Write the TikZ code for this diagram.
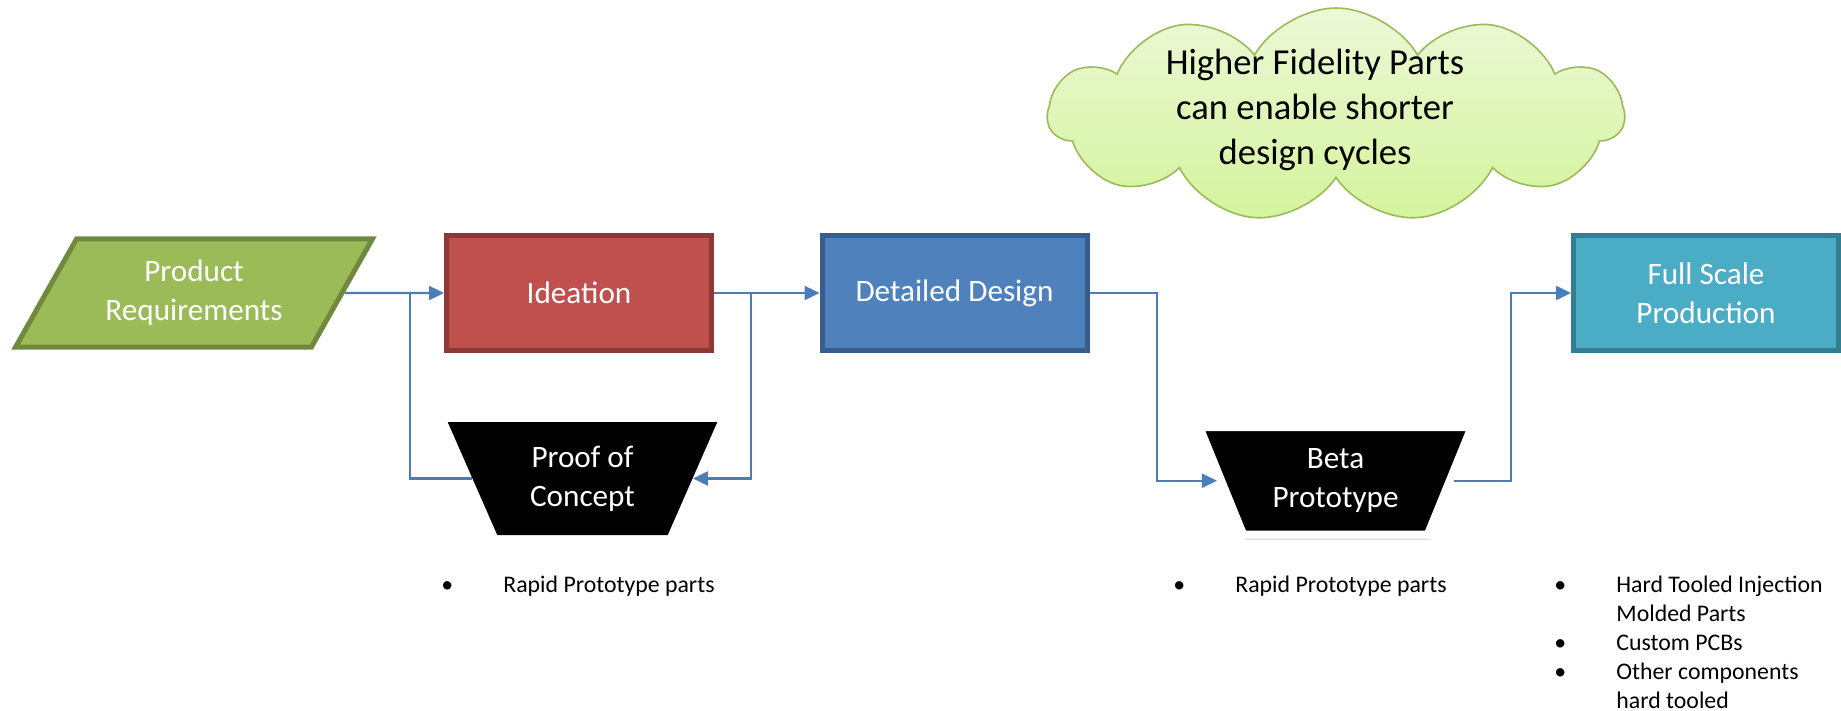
\documentclass[tikz,border=0pt]{standalone}
\usepackage{fontspec}
\setmainfont{Carlito}
\usetikzlibrary{shapes.geometric,shapes.symbols,arrows.meta,shadows}

\definecolor{reqgreen}{HTML}{9BBB59}
\definecolor{reqgreendark}{HTML}{71893F}
\definecolor{ideared}{HTML}{C0504D}
\definecolor{ideareddark}{HTML}{8C3836}
\definecolor{designblue}{HTML}{4F81BD}
\definecolor{designbluedark}{HTML}{385D8A}
\definecolor{prodteal}{HTML}{4BACC6}
\definecolor{prodtealdark}{HTML}{357D91}
\definecolor{linkblue}{HTML}{4A7EBB}
\definecolor{cloudtop}{HTML}{ECF8D6}
\definecolor{cloudbottom}{HTML}{D4F49C}

\tikzset{
  stage/.style={rectangle, line width=2.5pt, minimum width=132.5pt, minimum height=57pt,
    text=white, align=center, font={\fontsize{15.6}{19.5}\selectfont}},
  funnel/.style={trapezium, shape border rotate=180, trapezium stretches=true,
    trapezium left angle=65, trapezium right angle=65, fill=black, inner sep=0pt,
    text=white, align=center, font={\fontsize{15.6}{19.5}\selectfont}},
  link/.style={draw=linkblue, line width=1.2pt},
  linkarrow/.style={link, -{Triangle[length=7.5pt,width=7pt]}},
  bullets/.style={anchor=base west, inner sep=0pt, font={\fontsize{11.9}{14.6}\selectfont}}
}

\begin{document}
\begin{tikzpicture}[x=0.5pt,y=-0.5pt]
    \pgfmathsetmacro\mainy{293}
    \pgfmathsetmacro\loopy{480}
    \useasboundingbox (0,0) rectangle (1841,711);

    % top row
    \node[trapezium, trapezium stretches=true, trapezium left angle=58, trapezium right angle=122,
          fill=reqgreen, draw=reqgreendark, line width=2.5pt, minimum width=178.5pt, minimum height=54pt,
          text=white, align=center, font={\fontsize{15.6}{19.5}\selectfont}] (req) at (194,\mainy) {Product\\Requirements};
    \node[stage, fill=ideared, draw=ideareddark] (idea) at (579,\mainy) {Ideation};
    \node[stage, fill=designblue, draw=designbluedark] (design) at (954.5,\mainy) {Detailed Design};
    \node[stage, fill=prodteal, draw=prodtealdark] (prod) at (1706,\mainy) {Full Scale\\Production};

    % prototypes
    \node[funnel, minimum width=135.5pt, minimum height=56.5pt] (poc) at (582.5,478.5) {Proof of\\Concept};
    \node[funnel, draw=white, line width=4pt, minimum width=137pt, minimum height=53.75pt,
          drop shadow={opacity=0.35, shadow xshift=1pt, shadow yshift=-2.5pt}] (beta) at (1335.5,480.75) {Beta\\Prototype};

    % note
    \node[cloud, cloud puffs=11, cloud puff arc=120, cloud ignores aspect, draw=reqgreen, line width=0.8pt,
          top color=cloudtop, bottom color=cloudbottom, minimum width=288pt, minimum height=107pt,
          inner sep=0pt, font={\fontsize{18.3}{22.5}\selectfont}] (note) at (1336,115)
          {\smash{\hspace*{-21pt}\raisebox{-2pt}{\begin{tabular}{@{}c@{}}Higher Fidelity Parts\\can enable shorter\\design cycles\end{tabular}}}};

    % connectors
    \coordinate (j1) at (410,\mainy);
    \coordinate (j2) at (751,\mainy);
    \coordinate (j3) at (1157,\mainy);
    \coordinate (j4) at (1511,\mainy);
    \draw[linkarrow] (req.east) -- (idea.west);
    \draw[link] (poc.west) -| (j1);
    \draw[linkarrow] (idea.east) -- (design.west);
    \draw[linkarrow] (j2) |- (poc.east);
    \draw[linkarrow] (design.east) -- (j3) |- (beta.west);
    \draw[linkarrow] (beta.east) -| (j4) -- (prod.west);

    % part lists
    \node[bullets] (parts1) at (441,592) {\begin{tabular}[t]{@{}l@{}l@{}}
        \makebox[31pt][l]{•} & Rapid Prototype parts\end{tabular}};
    \node[bullets] (parts2) at (1173,592) {\begin{tabular}[t]{@{}l@{}l@{}}
        \makebox[31pt][l]{•} & Rapid Prototype parts\end{tabular}};
    \node[bullets] (parts3) at (1554,592) {\begin{tabular}[t]{@{}l@{}l@{}}
        \makebox[31pt][l]{•} & Hard Tooled Injection\\
                             & Molded Parts\\
        \makebox[31pt][l]{•} & Custom PCBs\\
        \makebox[31pt][l]{•} & Other components\\
                             & hard tooled\end{tabular}};
\end{tikzpicture}
\end{document}
